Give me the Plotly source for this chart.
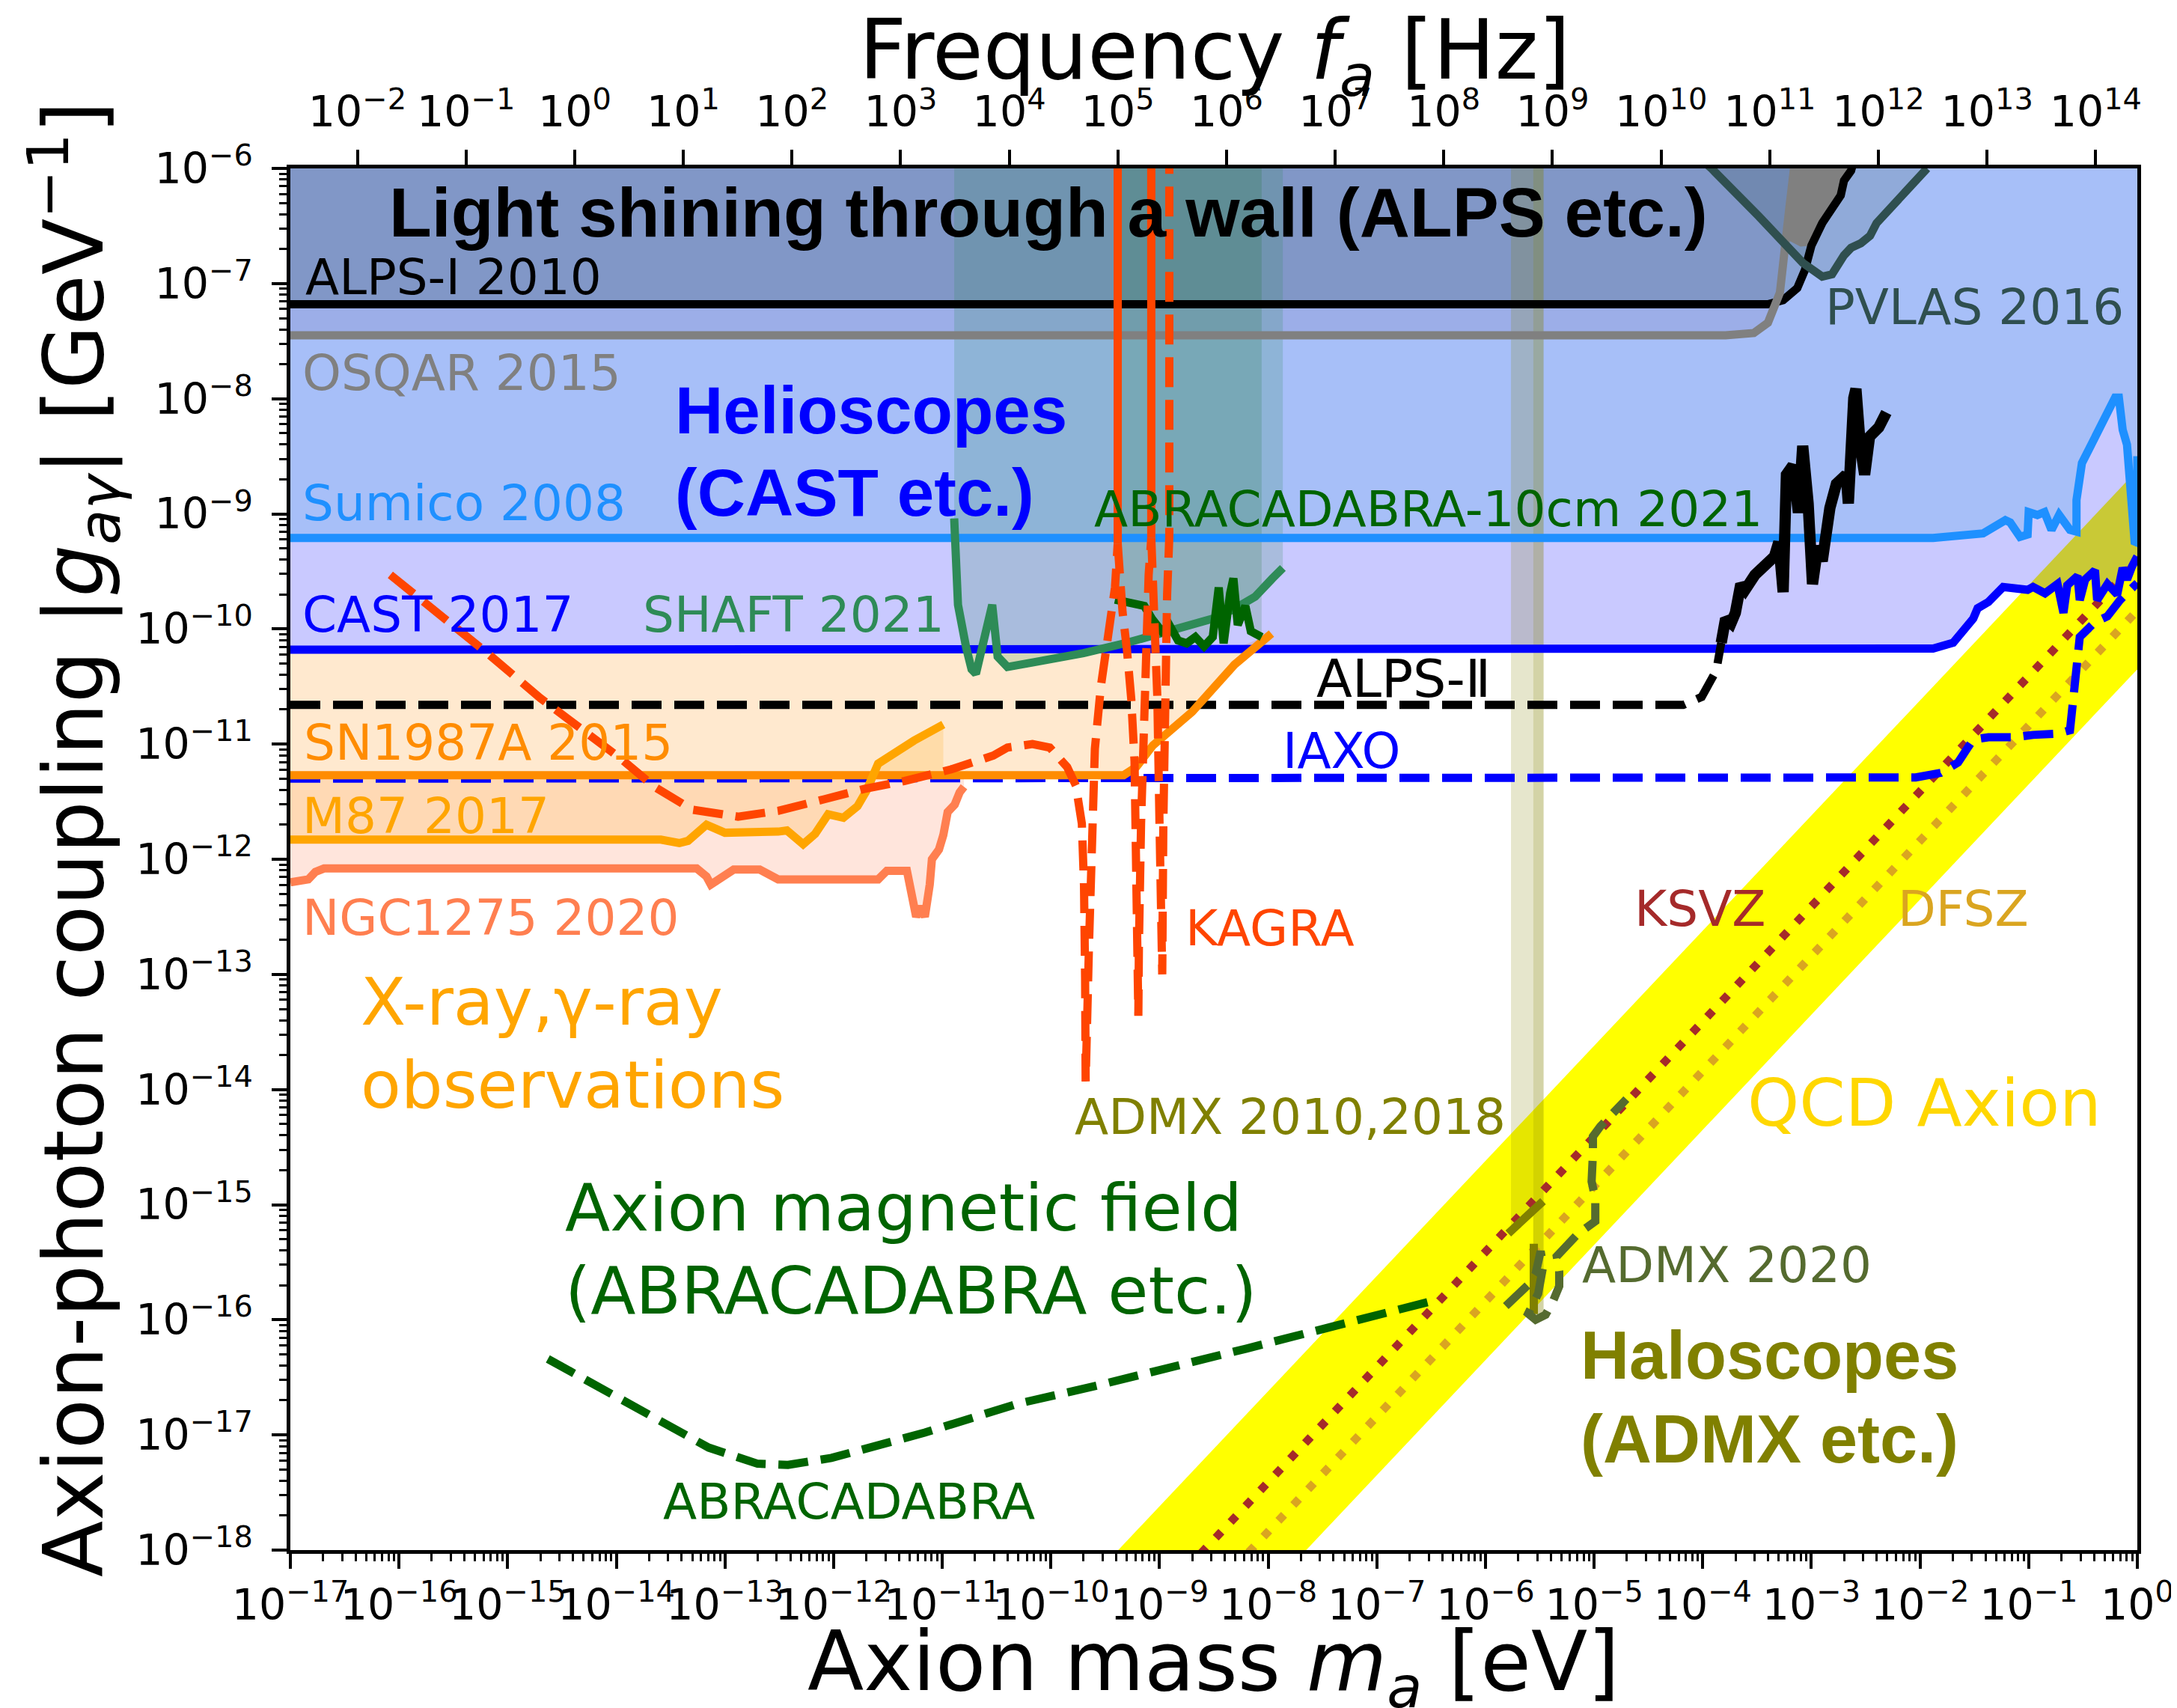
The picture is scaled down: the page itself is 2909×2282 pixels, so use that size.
import numpy as np
import plotly.graph_objects as go

# ------------------------------------------------------------------
# Data (log10 of m_a [eV] and log10 of |g| [GeV^-1])
# ------------------------------------------------------------------
MASS_EXP = list(range(-17, 1))          # bottom axis decades
COUP_EXP = list(range(-18, -5))         # left axis decades
FREQ_EXP = list(range(-2, 15))          # top axis decades
H_EVS = 4.135667696e-15                 # Planck constant [eV s]  (f = m / h)

ALPS1_LOGM = [-17.0, -3.40, -3.26, -3.13, -3.06, -3.00, -2.90, -2.80, -2.73, -2.70, -2.635, -2.60]
ALPS1_LOGG = [-7.18, -7.18, -7.144, -7.04, -6.884, -6.67, -6.475, -6.325, -6.234, -6.106, -6.02, -5.9]

OSQAR_LOGM = [-17.0, -3.79, -3.53, -3.40, -3.29, -3.23, -3.20, -3.16, -3.14]
OSQAR_LOGG = [-7.45, -7.45, -7.43, -7.34, -7.08, -6.65, -6.32, -6.0, -5.9]
OSQAR_OSC_LOGM = [-3.16, -3.19, -3.22, -3.10, -3.00, -2.90, -2.80, -2.70, -2.635]
OSQAR_OSC_LOGG = [-6.0, -6.3, -6.62, -6.68, -6.67, -6.475, -6.325, -6.106, -6.0]

PVLAS_LOGM = [-4.0, -3.92, -3.48, -3.08, -2.90, -2.81, -2.70, -2.635, -2.545, -2.46, -2.40, -1.976, -1.935]
PVLAS_LOGG = [-5.93, -6.0, -6.42, -6.82, -6.94, -6.92, -6.755, -6.69, -6.65, -6.585, -6.475, -6.05, -6.0]

SUMICO_LOGM = [-17.0, -1.88, -1.42, -1.28, -1.215, -1.17, -1.08, -1.01, -1.00, -0.92, -0.855, -0.79,
               -0.72, -0.62, -0.56, -0.56, -0.51, -0.44, -0.32, -0.205, -0.17, -0.135, -0.095, -0.06,
               -0.025, 0.0, 0.0]
SUMICO_LOGG = [-9.21, -9.21, -9.17, -9.10, -9.055, -9.075, -9.20, -9.18, -8.985, -9.01, -8.985, -9.14,
               -9.01, -9.14, -9.155, -8.88, -8.56, -8.43, -8.19, -7.99, -7.99, -8.27, -8.40, -8.77,
               -9.24, -9.25, -8.5]

CAST_LOGM = [-17.0, -1.88, -1.695, -1.605, -1.51, -1.47, -1.37, -1.235, -1.01, -0.96, -0.85, -0.735,
             -0.68, -0.645, -0.55, -0.53, -0.48, -0.39, -0.37, -0.275, -0.185, -0.135, -0.095, -0.05, 0.0]
CAST_LOGG = [-10.18, -10.17, -10.12, -10.02, -9.91, -9.82, -9.765, -9.635, -9.66, -9.635, -9.69, -9.61,
             -9.86, -9.62, -9.54, -9.75, -9.57, -9.49, -9.75, -9.61, -9.70, -9.47, -9.57, -9.46, -9.37]

IAXO_LOGM = [-17.0, -2.04, -1.81, -1.65, -1.56, -1.51, -1.37, -1.12, -0.96, -0.735, -0.62, -0.585,
             -0.56, -0.53, -0.39, -0.275, -0.16, 0.0]
IAXO_LOGG = [-11.30, -11.29, -11.25, -11.16, -11.03, -10.96, -10.94, -10.94, -10.92, -10.91, -10.88,
             -10.58, -10.23, -10.07, -9.94, -9.89, -9.75, -9.60]

ALPS2_LOGM = [-17.0, -4.18, -4.01, -3.875, -3.83, -3.79, -3.74, -3.70, -3.65, -3.61, -3.52, -3.43,
              -3.34, -3.30, -3.26, -3.23, -3.17, -3.12, -3.08, -3.03, -2.99, -2.94, -2.90, -2.83,
              -2.77, -2.68, -2.66, -2.61, -2.59, -2.55, -2.51, -2.465, -2.38, -2.31]
ALPS2_LOGG = [-10.66, -10.66, -10.59, -10.36, -10.12, -9.91, -9.95, -9.86, -9.61, -9.66, -9.53, -9.45,
              -9.37, -9.245, -9.68, -8.66, -8.58, -8.99, -8.41, -8.91, -9.61, -9.28, -9.41, -8.95,
              -8.74, -8.66, -8.91, -7.995, -7.915, -8.41, -8.66, -8.33, -8.25, -8.12]

SN_LOGM = [-17.0, -9.33, -9.215, -9.06, -8.70, -8.50, -8.31, -7.97]
SN_LOGG = [-11.27, -11.27, -11.20, -11.01, -10.72, -10.50, -10.31, -10.04]

M87_LOGM = [-17.0, -13.59, -13.42, -13.34, -13.17, -13.00, -12.51, -12.43, -12.28, -12.17, -12.05,
            -11.91, -11.78, -11.70, -11.59, -11.47, -11.26, -10.99]
M87_LOGG = [-11.83, -11.83, -11.86, -11.84, -11.70, -11.77, -11.76, -11.75, -11.87, -11.78, -11.61,
            -11.64, -11.54, -11.41, -11.17, -11.09, -10.97, -10.83]

NGC_LOGM = [-17.0, -16.835, -16.77, -16.69, -13.26, -13.17, -13.13, -13.03, -12.92, -12.68, -12.59,
            -12.51, -11.59, -11.51, -11.325, -11.28, -11.24, -11.20, -11.16, -11.115, -11.095, -11.03,
            -10.99, -10.95, -10.885, -10.84, -10.80]
NGC_LOGG = [-12.20, -12.175, -12.11, -12.08, -12.08, -12.15, -12.22, -12.15, -12.09, -12.09, -12.14,
            -12.175, -12.175, -12.10, -12.10, -12.31, -12.50, -12.41, -12.50, -12.22, -12.00, -11.915,
            -11.79, -11.59, -11.525, -11.42, -11.37]

SHAFT_LOGM = [-10.89, -10.88, -10.855, -10.78, -10.73, -10.69, -10.64, -10.59, -10.54, -10.49, -10.40,
              -10.16, -9.70, -9.30, -8.91, -8.51, -8.32, -8.12, -7.96, -7.865]
SHAFT_LOGG = [-9.04, -9.42, -9.79, -10.16, -10.35, -10.39, -10.165, -10.01, -9.79, -10.24, -10.33,
              -10.29, -10.21, -10.12, -10.02, -9.91, -9.83, -9.72, -9.56, -9.47]

ABRA10_LOGM = [-9.41, -9.30, -9.14, -9.07, -8.98, -8.91, -8.83, -8.75, -8.67, -8.59, -8.51, -8.455,
               -8.41, -8.35, -8.32, -8.28, -8.21, -8.16, -8.06]
ABRA10_LOGG = [-9.745, -9.775, -9.80, -9.91, -10.02, -9.965, -10.10, -10.125, -10.07, -10.15, -10.07,
               -9.64, -10.125, -9.69, -9.56, -9.965, -9.80, -10.02, -10.07]

KAGRA_A_LOGM = [-16.08, -15.65, -15.2, -14.7, -14.28, -13.96, -13.65, -13.30, -12.88, -12.51, -12.09,
                -11.72, -11.345, -10.92, -10.53, -10.40, -10.17, -10.01, -9.85, -9.77, -9.715, -9.695,
                -9.685, -9.68, -9.65, -9.625, -9.595, -9.54, -9.46, -9.41, -9.385, -9.385]
KAGRA_A_LOGG = [-9.53, -9.85, -10.2, -10.6, -10.90, -11.125, -11.37, -11.57, -11.63, -11.58, -11.48,
                -11.39, -11.32, -11.22, -11.10, -11.03, -11.00, -11.03, -11.20, -11.36, -11.69, -12.23,
                -13.03, -13.93, -12.77, -11.69, -11.04, -10.50, -9.965, -9.64, -9.26, -6.0]
KAGRA_B_LOGM = [-9.385, -9.385, -9.37, -9.34, -9.30, -9.26, -9.23, -9.215, -9.195, -9.19, -9.17,
                -9.14, -9.12, -9.10, -9.076, -9.076]
KAGRA_B_LOGG = [-6.0, -9.26, -9.53, -9.855, -10.18, -10.61, -11.15, -12.23, -13.36, -12.77, -11.69,
                -10.61, -10.07, -9.53, -9.21, -6.0]
KAGRA_C_LOGM = [-9.076, -9.076, -9.05, -9.02, -9.0, -8.975, -8.965, -8.95, -8.93, -8.91, -8.91]
KAGRA_C_LOGG = [-6.0, -9.21, -9.8, -10.6, -11.7, -13.0, -11.7, -10.5, -9.7, -9.2, -6.0]

ABRAP_LOGM = [-14.63, -13.95, -13.15, -12.70, -12.42, -12.02, -11.16, -10.31, -9.57, -8.2, -7.3, -6.42]
ABRAP_LOGG = [-16.34, -16.70, -17.11, -17.25, -17.26, -17.20, -16.98, -16.73, -16.57, -16.25, -16.03, -15.82]

ADMX20_LOGM = [-5.813, -5.607, -5.538, -5.492, -5.469, -5.515, -5.561, -5.607, -5.538, -5.447, -5.378,
               -5.321, -5.321, -5.344, -5.149, -4.989, -4.989, -5.023, -5.011, -5.011, -4.943, -4.829, -4.703]
ADMX20_LOGG = [-15.881, -15.696, -15.599, -15.404, -15.534, -15.773, -15.859, -15.946, -16.0, -15.957,
               -15.838, -15.708, -15.578, -15.448, -15.253, -15.144, -14.949, -14.798, -14.559, -14.408,
               -14.321, -14.213, -14.083]

ADMX18_LOGM = [-5.765, -5.56]
ADMX18_LOGG = [-15.23, -15.05]
ADMX10_LOGM = [-5.56, -5.465]
ADMX10_LOGG = [-15.95, -15.95]
ADMX_OLD1_LOGM = [-5.79, -5.47]
ADMX_OLD1_LOGG = [-15.25, -14.97]
ADMX_OLD2_LOGM = [-5.555, -5.555]
ADMX_OLD2_LOGG = [-15.34, -15.95]

QCD_UP_LOGM = [-9.5, 0.5]
QCD_UP_LOGG = [-18.12, -8.12]
QCD_LO_LOGM = [-7.7, 0.5]
QCD_LO_LOGG = [-18.05, -9.85]
KSVZ_LOGM = [-8.62, 0.0]
KSVZ_LOGG = [-18.03, -9.41]
DFSZ_LOGM = [-8.18, 0.0]
DFSZ_LOGG = [-18.02, -9.84]

# ------------------------------------------------------------------
W, H = 2909, 2282
ML, MR, MT, MB = 380, 52, 217, 219
PW, PH = W - ML - MR, H - MT - MB
TOP = -5.0
LW = 11
DASH = "40px,17px"
DOT = "11px,18px"


def P(v):
    return [10.0 ** t for t in v]


def to_top(lm, lg):
    return P(list(lm) + [lm[-1], lm[0]]), P(list(lg) + [TOP, TOP])


def between(lm, lower, upper):
    return P(list(lm) + list(lm)[::-1]), P(list(lower) + list(upper)[::-1])


fig = go.Figure()


def fill(xy, color):
    fig.add_trace(go.Scatter(x=xy[0], y=xy[1], mode="lines", fill="toself", fillcolor=color,
                             line=dict(width=0), hoverinfo="skip", showlegend=False))


def line(lm, lg, color, dash="solid", width=LW):
    fig.add_trace(go.Scatter(x=P(lm), y=P(lg), mode="lines",
                             line=dict(color=color, width=width, dash=dash),
                             hoverinfo="skip", showlegend=False))


# ---- fills ----
fill((P(QCD_UP_LOGM + QCD_LO_LOGM[::-1]), P(QCD_UP_LOGG + QCD_LO_LOGG[::-1])), "#FFFF00")

sn_at_ngc = np.interp(NGC_LOGM, SN_LOGM, SN_LOGG)
fill(between(NGC_LOGM, NGC_LOGG, sn_at_ngc), "rgba(255,127,80,0.2)")
sn_at_m87 = np.interp(M87_LOGM, SN_LOGM, SN_LOGG)
fill(between(M87_LOGM, M87_LOGG, sn_at_m87), "rgba(255,165,0,0.18)")
cast_at_sn = np.maximum(np.interp(SN_LOGM, CAST_LOGM, CAST_LOGG), SN_LOGG)
fill(between(SN_LOGM, SN_LOGG, cast_at_sn), "rgba(255,140,0,0.19)")

fill(to_top(CAST_LOGM, CAST_LOGG), "rgba(0,0,255,0.21)")
fill(to_top(SUMICO_LOGM, SUMICO_LOGG), "rgba(36,156,220,0.2)")
fill(to_top(OSQAR_LOGM, OSQAR_LOGG), "rgba(113,112,168,0.2)")
fill(to_top(ALPS1_LOGM, ALPS1_LOGG), "rgba(27,61,72,0.2)")
fill(to_top(PVLAS_LOGM, PVLAS_LOGG), "rgba(47,79,79,0.18)")
fill((P(OSQAR_OSC_LOGM), P(OSQAR_OSC_LOGG)), "#808080")
fill(to_top(SHAFT_LOGM, SHAFT_LOGG), "rgba(46,139,87,0.2)")
fill(to_top(ABRA10_LOGM, ABRA10_LOGG), "rgba(0,100,0,0.15)")
fill(to_top(ADMX18_LOGM, ADMX18_LOGG), "rgba(128,128,0,0.2)")
fill(to_top(ADMX10_LOGM, ADMX10_LOGG), "rgba(128,128,0,0.35)")

# ---- lines ----
line(KSVZ_LOGM, KSVZ_LOGG, "#A52A2A", DOT)
line(DFSZ_LOGM, DFSZ_LOGG, "#DAA520", DOT)
line(ALPS1_LOGM, ALPS1_LOGG, "black")
line(OSQAR_LOGM, OSQAR_LOGG, "#808080")
line(PVLAS_LOGM, PVLAS_LOGG, "#2F4F4F")
line(SUMICO_LOGM, SUMICO_LOGG, "#1E90FF")
line(CAST_LOGM, CAST_LOGG, "#0000FF")
line(IAXO_LOGM, IAXO_LOGG, "#0000FF", DASH)
N_DASHED = 5
line(ALPS2_LOGM[:N_DASHED], ALPS2_LOGG[:N_DASHED], "black", DASH)
line(ALPS2_LOGM[N_DASHED - 1:], ALPS2_LOGG[N_DASHED - 1:], "black", width=LW + 4)
line(SN_LOGM, SN_LOGG, "#FF8C00")
line(M87_LOGM, M87_LOGG, "#FFA500")
line(NGC_LOGM, NGC_LOGG, "#FF7F50")
line(SHAFT_LOGM, SHAFT_LOGG, "#2E8B57")
line(ABRA10_LOGM, ABRA10_LOGG, "#006400")
line(ABRAP_LOGM, ABRAP_LOGG, "#006400", DASH)
line(ADMX_OLD1_LOGM, ADMX_OLD1_LOGG, "#808000")
line(ADMX_OLD2_LOGM, ADMX_OLD2_LOGG, "#808000")
line(ADMX20_LOGM, ADMX20_LOGG, "#556B2F", DASH)
# KAGRA: the overlapping vertical branches look solid in the reference
line(KAGRA_A_LOGM[:-1], KAGRA_A_LOGG[:-1], "#FF4500", DASH)
line(KAGRA_A_LOGM[-2:], KAGRA_A_LOGG[-2:], "#FF4500")
line(KAGRA_B_LOGM[1:-1], KAGRA_B_LOGG[1:-1], "#FF4500", DASH)
line(KAGRA_B_LOGM[-2:], KAGRA_B_LOGG[-2:], "#FF4500")
line(KAGRA_C_LOGM[1:], KAGRA_C_LOGG[1:], "#FF4500", DASH)

# invisible trace to activate the frequency axis
fig.add_trace(go.Scatter(x=[10.0 ** FREQ_EXP[0], 10.0 ** FREQ_EXP[-1]], y=[1e-12, 1e-12],
                         xaxis="x2", yaxis="y", mode="markers", marker=dict(opacity=0),
                         hoverinfo="skip", showlegend=False))


def sup_label(k):
    s = str(abs(k))
    return "10<sup>" + ("\u2212" if k < 0 else "") + s + "</sup>"


TICKFONT = dict(family="DejaVu Sans", size=57, color="black")
minor_x = [j * 10.0 ** k for k in MASS_EXP[:-1] for j in range(2, 10)]
minor_y = [j * 10.0 ** k for k in COUP_EXP[:-1] for j in range(2, 10)]
axis_common = dict(type="log", tickmode="array", ticks="outside", ticklen=20, tickwidth=4,
                   tickcolor="black", showline=True, linewidth=4.5, linecolor="black",
                   showgrid=False, zeroline=False, tickangle=0, tickfont=TICKFONT,
                   layer="above traces")
minor_common = dict(tickmode="array", ticks="outside", ticklen=10, tickwidth=2.7,
                    tickcolor="black", showgrid=False)

fig.update_layout(
    width=W, height=H,
    margin=dict(l=ML, r=MR, t=MT, b=MB, pad=0),
    paper_bgcolor="white", plot_bgcolor="white",
    showlegend=False,
    font=dict(family="DejaVu Sans", color="black"),
    xaxis=dict(range=[MASS_EXP[0], MASS_EXP[-1]],
               tickvals=[10.0 ** k for k in MASS_EXP],
               ticktext=[sup_label(k) for k in MASS_EXP],
               minor=dict(tickvals=minor_x, **minor_common), **axis_common),
    yaxis=dict(range=[COUP_EXP[0], COUP_EXP[-1]],
               tickvals=[10.0 ** k for k in COUP_EXP],
               ticktext=[sup_label(k) for k in COUP_EXP],
               mirror=True, ticklabelstandoff=14,
               minor=dict(tickvals=minor_y, **minor_common), **axis_common),
    xaxis2=dict(range=[MASS_EXP[0] - np.log10(H_EVS), MASS_EXP[-1] - np.log10(H_EVS)],
                overlaying="x", side="top", anchor="y", ticklabelstandoff=8,
                tickvals=[10.0 ** k for k in FREQ_EXP],
                ticktext=[sup_label(k) for k in FREQ_EXP], **axis_common),
)


def px(x):
    return (x - ML) / PW


def py(y):
    return (MT + PH - y) / PH


REG = "DejaVu Sans"
BOLD = "Liberation Sans"


def label(text, x, y, color, size=66, family=REG, bold=False, xanchor="left", angle=0):
    t = "<b>" + text + "</b>" if bold else text
    fig.add_annotation(text=t, x=px(x), y=py(y), xref="paper", yref="paper",
                       xanchor=xanchor, yanchor="middle", showarrow=False, textangle=angle,
                       font=dict(family=family, size=size, color=color))


label("Light shining through a wall (ALPS etc.)", 510, 276, "black", 93, BOLD, True)
label("ALPS-\u2160 2010", 398, 363, "black")
label("OSQAR 2015", 394, 491, "#808080")
label("Sumico 2008", 394, 664, "#1E90FF")
label("CAST 2017", 394, 813, "#0000FF")
label("SHAFT 2021", 851, 813, "#2E8B57")
label("SN1987A 2015", 396, 985, "#FF8C00")
label("M87 2017", 394, 1082, "#FFA500")
label("NGC1275 2020", 394, 1218, "#FF7F50")
label("X-ray,\u03b3-ray", 472, 1330, "#FFA500", 88)
label("observations", 472, 1441, "#FFA500", 88)
label("Helioscopes", 894, 540, "#0000FF", 89, BOLD, True)
label("(CAST etc.)", 894, 650, "#0000FF", 89, BOLD, True)
label("ABRACADABRA-10cm 2021", 1456, 672, "#006400")
label("ALPS-\u2161", 1754, 899, "black", 70)
label("IAXO", 1709, 995, "#0000FF")
label("KAGRA", 1578, 1232, "#FF4500")
label("ADMX 2010,2018", 1430, 1484, "#808000")
label("PVLAS 2016", 2436, 402, "#2F4F4F")
label("KSVZ", 2181, 1206, "#A52A2A")
label("DFSZ", 2534, 1206, "#DAA520")
label("QCD Axion", 2332, 1466, "#FFD700", 88)
label("ADMX 2020", 2110, 1682, "#556B2F")
label("Haloscopes", 2108, 1803, "#808000", 90, BOLD, True)
label("(ADMX etc.)", 2108, 1915, "#808000", 90, BOLD, True)
label("Axion magnetic field", 746, 1605, "#006400", 88)
label("(ABRACADABRA etc.)", 746, 1716, "#006400", 88)
label("ABRACADABRA", 878, 1998, "#006400")

# axis titles
label("Axion mass <i>m<sub>a</sub></i> [eV]", 1618, 2219, "black", 110, xanchor="center")
label("Frequency <i>f<sub>a</sub></i> [Hz]", 1620, 66, "black", 110, xanchor="center")
label("Axion-photon coupling |<i>g<sub>a\u03b3</sub></i>| [GeV<sup>\u22121</sup>]",
      90, 1113, "black", 110, xanchor="center", angle=-90)

fig.write_html("out.html")
